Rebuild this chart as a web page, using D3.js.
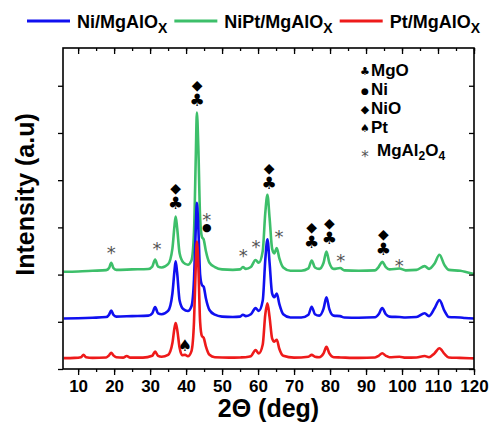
<!DOCTYPE html>
<html>

<head>
    <meta charset="utf-8">
    <style>
        body {
            margin: 0;
            background: #fff;
            font-family: 'Liberation Sans', Arial, sans-serif;
        }

        .axis .domain {
            display: none;
        }

        .axis .tick line {
            stroke: #000;
            stroke-width: 1.3;
        }

        .x .tick text {
            font-size: 17px;
            font-weight: bold;
            fill: #000;
        }

        .legend-label {
            font-size: 18px;
            font-weight: bold;
        }

        .phase-label {
            font-size: 17px;
            font-weight: bold;
        }

        .axis-label {
            font-size: 25px;
            font-weight: bold;
        }

        .marker {
            font-family: 'DejaVu Sans', sans-serif;
        }
    </style>
</head>

<body>
    <svg width="492" height="431"></svg>

    <script src="https://d3js.org/d3.v7.min.js"></script>
    <script>

        // XRD patterns, 2theta (deg) vs intensity (a.u.)
        let niPts = [[6, 1070], [10, 1075], [14, 1085], [17.8, 1100], [18.6, 1150], [19.2, 1240], [19.8, 1150], [20.6, 1110], [25, 1120], [29.5, 1130], [30.6, 1180], [31.4, 1310], [32.2, 1180], [33.2, 1160], [35, 1230], [36.2, 1600], [36.8, 2100], [37.1, 2280], [37.5, 2050], [38.2, 1450], [39.2, 1270], [40.5, 1230], [41.5, 1330], [42.2, 1900], [42.7, 3000], [43.0, 3520], [43.4, 3000], [43.9, 2000], [44.4, 1780], [44.9, 1740], [45.5, 1500], [46.5, 1250], [48, 1150], [50, 1110], [53, 1100], [55, 1110], [55.8, 1150], [56.6, 1120], [58, 1160], [59.3, 1290], [60.2, 1230], [61.3, 1450], [62.0, 2300], [62.6, 2750], [63.2, 2250], [63.9, 1600], [64.5, 1520], [65.2, 1600], [65.9, 1380], [67, 1160], [69, 1090], [72, 1090], [74, 1150], [74.9, 1320], [75.8, 1160], [77, 1130], [78.2, 1280], [79.0, 1520], [79.8, 1270], [81, 1130], [82.8, 1120], [84, 1090], [88, 1085], [92.5, 1095], [93.5, 1160], [94.5, 1290], [95.5, 1160], [96.5, 1110], [99.3, 1100], [101, 1090], [104, 1100], [106.3, 1180], [107.5, 1120], [109, 1280], [110.4, 1460], [111.8, 1230], [113, 1100], [116.2, 1090], [117.5, 1080], [120, 1070]]

        let niptPts = [[6, 2060], [10, 2065], [14, 2080], [17.8, 2095], [18.6, 2140], [19.2, 2250], [19.8, 2140], [20.6, 2100], [25, 2110], [29.5, 2120], [30.6, 2170], [31.4, 2320], [32.2, 2170], [33.2, 2150], [35, 2220], [36.2, 2550], [36.8, 3050], [37.1, 3230], [37.5, 3000], [38.2, 2450], [39.2, 2260], [40.5, 2210], [41.5, 2300], [42.2, 2900], [42.7, 4500], [43.0, 5430], [43.4, 4700], [43.9, 3200], [44.4, 2800], [44.9, 2740], [45.5, 2500], [46.5, 2250], [48, 2160], [50, 2110], [53, 2100], [55, 2110], [55.8, 2160], [56.6, 2120], [58, 2160], [59.3, 2310], [60.2, 2250], [61.3, 2500], [62.0, 3300], [62.6, 3690], [63.2, 3200], [63.9, 2550], [64.5, 2450], [65.2, 2560], [65.9, 2350], [67, 2150], [69, 2080], [72, 2080], [74, 2130], [74.9, 2300], [75.8, 2150], [77, 2120], [78.2, 2250], [79.0, 2490], [79.8, 2250], [81, 2120], [82.8, 2140], [84, 2090], [88, 2080], [92.5, 2090], [93.5, 2160], [94.5, 2270], [95.5, 2160], [96.5, 2110], [99.3, 2130], [101, 2090], [104, 2100], [106.3, 2180], [107.5, 2120], [109, 2230], [110.4, 2420], [111.8, 2200], [113, 2100], [116.2, 2080], [117.5, 2060], [120, 2010]]

        let ptPts = [[6, 230], [9, 235], [10.8, 250], [11.5, 300], [12.2, 250], [14, 235], [17.8, 245], [18.6, 290], [19.2, 345], [19.8, 290], [20.6, 250], [22.5, 240], [23.5, 275], [24.5, 240], [28, 240], [30.6, 280], [31.4, 370], [32.2, 280], [33.2, 260], [35, 300], [36.2, 550], [36.8, 880], [37.1, 975], [37.5, 850], [38.2, 450], [38.9, 290], [39.7, 300], [40.5, 270], [41.5, 380], [42.2, 1000], [42.7, 2200], [43.0, 2700], [43.4, 2200], [43.9, 1000], [44.4, 700], [44.9, 660], [45.5, 480], [46.5, 300], [48, 250], [52, 240], [55, 245], [56.5, 250], [58, 270], [59.3, 400], [60.2, 330], [61.3, 520], [62.0, 1150], [62.6, 1390], [63.2, 1100], [63.9, 650], [64.5, 580], [65.2, 620], [65.9, 430], [67, 280], [70, 240], [74, 260], [74.9, 300], [75.8, 260], [77, 250], [78.2, 330], [79.0, 470], [79.8, 330], [81, 250], [83, 245], [88, 235], [92.5, 245], [93.5, 280], [94.5, 335], [95.5, 280], [96.5, 250], [99.3, 260], [101, 240], [104, 245], [106.3, 275], [107.5, 250], [109, 330], [110.4, 440], [111.8, 320], [113, 245], [116, 235], [120, 225]]

        let seriesNames = ["Ni/MgAlO", "NiPt/MgAlO", "Pt/MgAlO"]
        let seriesColors = ["#1010f0", "#3dbf6a", "#ee1a1a"]
        let seriesData = [niPts, niptPts, ptPts]
        // draw order: green at the back, red at the front
        let drawOrder = [1, 0, 2]

        let xTicks = [10, 20, 30, 40, 50, 60, 70, 80, 90, 100, 110, 120]
        let xMinorTicks = [10, 15, 20, 25, 30, 35, 40, 45, 50, 55, 60, 65, 70, 75, 80, 85, 90, 95, 100, 105, 110, 115, 120]
        let yTicks = [0, 1000, 2000, 3000, 4000, 5000, 6000]

        // peak markers (position of the lower symbol): NiO stacked over MgO
        let nioMgoPeaks = [[37.1, 3545], [43.1, 5715], [63.1, 3969], [74.9, 2712], [79.8, 2803], [94.8, 2570]]
        let spinelPeaks = [[19.2, 2558], [31.9, 2642], [55.9, 2500], [59.4, 2698], [65.8, 2909], [83, 2394], [99.25, 2288]]
        // MgAl2O4 stacked over Ni
        let spinelNiPeaks = [[45.75, 3037]]
        let ptPeaks = [[39.7, 509]]

        let phaseSymbols = ["\u2663", "\u25CF", "\u25C6", "\u2660", "*"]
        let phaseNames = ["MgO", "Ni", "NiO", "Pt", "MgAl"]

        let margin = { top: 48, right: 18, bottom: 62, left: 63 }
        let width = 492
        let height = 431

        let svg = d3.select("svg")

        let x = d3.scaleLinear()
            .domain([5.8, 120])
            .range([margin.left, width - margin.right])

        let y = d3.scaleLinear()
            .domain([0, 6800])
            .range([height - margin.bottom, margin.top])

        let x0 = margin.left, x1 = width - margin.right
        let y0 = height - margin.bottom, y1 = margin.top

        // curves
        let line = d3.line()
            .x(d => x(d[0]))
            .y(d => y(d[1]))
            .curve(d3.curveMonotoneX)

        svg.append("g")
            .selectAll("path")
            .data(drawOrder)
            .join("path")
            .attr("fill", "none")
            .attr("stroke", i => seriesColors[i])
            .attr("stroke-width", 2.6)
            .attr("stroke-linejoin", "round")
            .attr("d", i => line(seriesData[i]))

        // axes: bottom labelled, top mirrored inward
        svg.append("g")
            .attr("class", "x axis")
            .attr("transform", `translate(0,${y0})`)
            .call(d3.axisBottom(x).tickValues(xMinorTicks).tickSize(3).tickFormat(""))
        svg.append("g")
            .attr("class", "x axis")
            .attr("transform", `translate(0,${y0})`)
            .call(d3.axisBottom(x).tickValues(xTicks).tickSize(6).tickPadding(5).tickFormat(d3.format("d")))
        svg.append("g")
            .attr("class", "x axis")
            .attr("transform", `translate(0,${y1})`)
            .call(d3.axisBottom(x).tickValues(xMinorTicks).tickSize(3).tickFormat(""))
        svg.append("g")
            .attr("class", "x axis")
            .attr("transform", `translate(0,${y1})`)
            .call(d3.axisBottom(x).tickValues(xTicks).tickSize(6).tickFormat(""))

        svg.append("g")
            .attr("class", "y axis")
            .attr("transform", `translate(${x0},0)`)
            .call(d3.axisLeft(y).tickValues(yTicks).tickSize(5).tickFormat(""))
        svg.append("g")
            .attr("class", "y axis")
            .attr("transform", `translate(${x1},0)`)
            .call(d3.axisLeft(y).tickValues(yTicks).tickSize(5).tickFormat(""))

        svg.append("rect")
            .attr("x", x0)
            .attr("y", y1)
            .attr("width", x1 - x0)
            .attr("height", y0 - y1)
            .attr("fill", "none")
            .attr("stroke", "#000")
            .attr("stroke-width", 1.6)

        // axis titles
        svg.append("text")
            .attr("class", "axis-label")
            .attr("x", (x0 + x1) / 2)
            .attr("y", 417)
            .attr("text-anchor", "middle")
            .text("2\u0398 (deg)")

        svg.append("text")
            .attr("class", "axis-label")
            .attr("transform", `translate(34,${(y0 + y1) / 2 - 14}) rotate(-90)`)
            .attr("text-anchor", "middle")
            .text("Intensity (a.u)")

        // peak markers
        let marks = svg.append("g")

        // one text per peak, upper glyph then lower glyph
        let stacked = marks.selectAll(".stack")
            .data(nioMgoPeaks)
            .join("text")
            .attr("class", "marker")
            .attr("text-anchor", "middle")
        stacked.append("tspan")
            .attr("x", d => x(d[0]))
            .attr("y", d => y(d[1]) - 9)
            .attr("font-size", 14)
            .text(phaseSymbols[2])
        stacked.append("tspan")
            .attr("x", d => x(d[0]))
            .attr("y", d => y(d[1]) + 7)
            .attr("font-size", 17)
            .text(phaseSymbols[0])

        let starDot = marks.selectAll(".stardot")
            .data(spinelNiPeaks)
            .join("text")
            .attr("class", "marker")
            .attr("text-anchor", "middle")
        starDot.append("tspan")
            .attr("x", d => x(d[0]))
            .attr("y", d => y(d[1]) - 0)
            .attr("font-size", 18)
            .attr("fill", "#555")
            .text(phaseSymbols[4])
        starDot.append("tspan")
            .attr("x", d => x(d[0]))
            .attr("y", d => y(d[1]) + 5)
            .attr("font-size", 11)
            .text(phaseSymbols[1])

        marks.selectAll(".star")
            .data(spinelPeaks)
            .join("text")
            .attr("class", "marker")
            .attr("x", d => x(d[0]))
            .attr("y", d => y(d[1]) + 11)
            .attr("text-anchor", "middle")
            .attr("font-size", 18)
            .attr("fill", "#555")
            .text(phaseSymbols[4])

        marks.selectAll(".spade")
            .data(ptPeaks)
            .join("text")
            .attr("class", "marker")
            .attr("x", d => x(d[0]))
            .attr("y", d => y(d[1]) + 6)
            .attr("text-anchor", "middle")
            .attr("font-size", 16)
            .text(phaseSymbols[3])

        // phase key, top right
        let key = svg.append("g").attr("transform", "translate(365,76)")
        let keyRows = [0, 19, 38, 57, 80]
        phaseNames.forEach(function (name, i) {
            key.append("text")
                .attr("class", "marker")
                .attr("x", 0)
                .attr("y", keyRows[i] - (i == 4 ? -6 : 1))
                .attr("text-anchor", "middle")
                .attr("font-size", i == 4 ? 15 : (i == 1 ? 9 : 11))
                .attr("fill", i == 4 ? "#555" : "#000")
                .text(phaseSymbols[i])
            let t = key.append("text")
                .attr("class", "phase-label")
                .attr("x", i == 4 ? 12 : 6)
                .attr("y", keyRows[i])
                .text(name)
            if (i == 4) {
                t.append("tspan").attr("font-size", 12).attr("dy", 4).text("2")
                t.append("tspan").attr("dy", -4).text("O")
                t.append("tspan").attr("font-size", 12).attr("dy", 4).text("4")
            }
        })

        // series legend along the top
        let lx = 27
        seriesNames.forEach(function (name, i) {
            svg.append("line")
                .attr("x1", lx)
                .attr("x2", lx + 43)
                .attr("y1", 21)
                .attr("y2", 21)
                .attr("stroke", seriesColors[i])
                .attr("stroke-width", 3)
            let t = svg.append("text")
                .attr("class", "legend-label")
                .attr("x", lx + 50)
                .attr("y", 28)
                .text(name)
            t.append("tspan")
                .attr("font-size", 14)
                .attr("dy", 5)
                .text("X")
            lx = lx + 50 + t.node().getComputedTextLength() + 7
        })

    </script>
</body>

</html>
